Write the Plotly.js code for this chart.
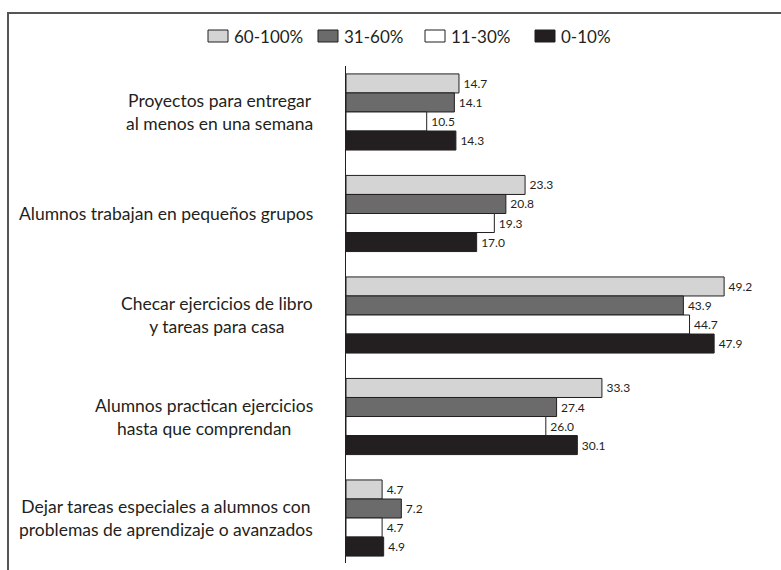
<!DOCTYPE html>
<html>
<head>
<meta charset="utf-8">
<script src="https://cdn.plot.ly/plotly-3.0.1.min.js"></script>
<style>
  html, body { margin: 0; padding: 0; background: #fff; }
  #wrap { position: relative; width: 781px; height: 570px; overflow: hidden; }
  #chart { width: 781px; height: 570px; }
  #frame { position: absolute; left: 7px; top: 12px; width: 790px; height: 600px;
           border-top: 2px solid #555; border-left: 2px solid #555; pointer-events: none; }
</style>
</head>
<body>
<div id="wrap">
  <div id="chart"></div>
  <div id="frame"></div>
</div>
<script>
const categories = [
  "Proyectos para entregar<br>al menos en una semana",
  "Alumnos trabajan en pequeños grupos",
  "Checar ejercicios de libro<br>y tareas para casa",
  "Alumnos practican ejercicios<br>hasta que comprendan",
  "Dejar tareas especiales a alumnos con<br>problemas de aprendizaje o avanzados"
];
const seriesNames = ["60-100%", "31-60%", "11-30%", "0-10%"];
const s60_100 = [14.7, 23.3, 49.2, 33.3, 4.7];
const s31_60  = [14.1, 20.8, 43.9, 27.4, 7.2];
const s11_30  = [10.5, 19.3, 44.7, 26.0, 4.7];
const s0_10   = [14.3, 17.0, 47.9, 30.1, 4.9];
const seriesValues = [s60_100, s31_60, s11_30, s0_10];
const colors = ["#d4d4d4", "#6b6b6b", "#ffffff", "#231f20"];

const FONT = "Lato, 'Open Sans', sans-serif";
const INK = "#231f20";

// plot-area geometry (pixels) used to place the custom legend
const M = { l: 346, r: 10, t: 66, b: 7 };
const W = 781, H = 570;
const PW = W - M.l - M.r, PH = H - M.t - M.b;
const px2x = p => (p - M.l) / PW;
const px2y = p => (H - M.b - p) / PH;
const legendLeft = [208, 318, 425, 535];
const legendTop = 30, legendBottom = 42, swatchW = 20;

const traces = seriesValues.map((vals, i) => ({
  type: "bar",
  orientation: "h",
  name: seriesNames[i],
  y: categories,
  x: vals,
  marker: { color: colors[i], line: { color: INK, width: 1 } },
  text: vals.map(v => "\u2009" + v.toFixed(1)),
  textposition: "outside",
  textfont: { family: FONT, size: 12, color: INK },
  cliponaxis: false,
  hoverinfo: "skip",
  showlegend: false
}));

const annotations = categories.map(c => ({
  xref: "paper", yref: "y", x: 0, y: c,
  xanchor: "right", yanchor: "middle", xshift: -31,
  text: c, align: "center", showarrow: false,
  font: { family: FONT, size: 17.5, color: INK }
}));

const shapes = [];
seriesNames.forEach((n, i) => {
  shapes.push({
    type: "rect", xref: "paper", yref: "paper",
    x0: px2x(legendLeft[i]), x1: px2x(legendLeft[i] + swatchW),
    y0: px2y(legendBottom), y1: px2y(legendTop),
    fillcolor: colors[i], line: { color: INK, width: 1 }
  });
  annotations.push({
    xref: "paper", yref: "paper",
    x: px2x(legendLeft[i] + swatchW + 4), y: px2y((legendTop + legendBottom) / 2),
    xanchor: "left", yanchor: "middle", text: n, showarrow: false,
    font: { family: FONT, size: 17, color: INK }
  });
});

const layout = {
  width: W, height: H,
  margin: { l: M.l, r: M.r, t: M.t, b: M.b, pad: 0 },
  paper_bgcolor: "#fff", plot_bgcolor: "#fff",
  barmode: "group", bargap: 0.25, bargroupgap: 0,
  font: { family: FONT, color: INK },
  xaxis: { range: [0, 55.3], visible: false, fixedrange: true },
  yaxis: {
    type: "category", range: [4.443, -0.453],
    showticklabels: false, ticks: "", showgrid: false, zeroline: false,
    showline: true, linecolor: INK, linewidth: 1, fixedrange: true
  },
  showlegend: false,
  annotations: annotations,
  shapes: shapes
};

Plotly.newPlot("chart", traces, layout, { displayModeBar: false, staticPlot: true });
</script>
</body>
</html>
